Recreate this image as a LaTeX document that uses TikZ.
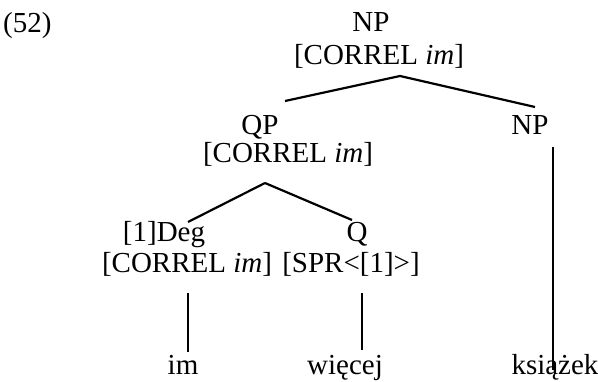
\documentclass[tikz,border=0pt]{standalone}
\usepackage{fontspec}
\setmainfont{Liberation Serif}
\usetikzlibrary{positioning}
\tikzset{
mylab/.style={
  anchor=base,
  inner sep=0pt,
  font=\fontsize{29}{34}\selectfont
  },
branch/.style={
  line width=2.2pt
  }
}

\begin{document}
\begin{tikzpicture}[x=1pt, y=-1pt]
\useasboundingbox (0,0) rectangle (598,382);

\node[mylab, anchor=base west] (ex) at (3,33) {(52)};

\node[mylab] (np1) at (371,32) {NP};
\node[mylab] (np1f) at (379,65) {[CORREL \textit{im}]};

\node[mylab] (qp2) at (260,135) {QP};
\node[mylab] (qp2f) at (288,163) {[CORREL \textit{im}]};
\node[mylab] (np2) at (530,135) {NP};

\node[mylab] (deg3) at (164,242) {[1]Deg};
\node[mylab] (deg3f) at (187,273) {[CORREL \textit{im}]};
\node[mylab] (q3) at (357,242) {Q};
\node[mylab] (q3f) at (351,273) {[SPR<[1]>]};

\node[mylab] (w1) at (183,375) {im};
\node[mylab] (w2) at (345,375) {więcej};
\node[mylab] (w3) at (555,375) {książek};

\begin{scope}[branch]
\draw
  ([xshift=21pt, yshift=-11pt]np1f.base) -- ([xshift=25pt, yshift=34pt]qp2.base);
\draw
  ([xshift=21pt, yshift=-11pt]np1f.base) -- ([xshift=5pt, yshift=28pt]np2.base);

\draw
  ([xshift=-23pt, yshift=-20pt]qp2f.base) -- ([xshift=24pt, yshift=20pt]deg3.base);
\draw
  ([xshift=-23pt, yshift=-20pt]qp2f.base) -- ([xshift=-5pt, yshift=22pt]q3.base);

\draw
  ([xshift=1pt, yshift=-20pt]deg3f.base) -- ([xshift=5pt, yshift=23pt]w1.base);
\draw
  ([xshift=11pt, yshift=-20pt]q3f.base) -- ([xshift=17pt, yshift=25pt]w2.base);
\draw
  ([xshift=23pt, yshift=-12pt]np2.base) -- ([xshift=-2pt, yshift=5pt]w3.base);
\end{scope}
\end{tikzpicture}
\end{document}
